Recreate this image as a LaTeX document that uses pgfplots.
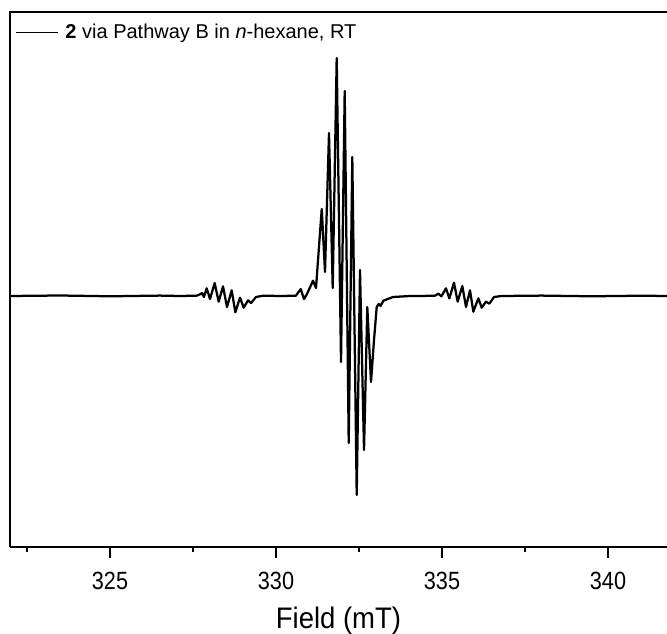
\documentclass[border=0pt]{standalone}
\usepackage{fontspec}
\setmainfont{Liberation Sans}
\usepackage{graphicx}
\usepackage{pgfplots}
\pgfplotsset{compat=1.18}
\begin{document}
\begin{tikzpicture}
\begin{axis}[
  scale only axis, width=394.2pt, height=321pt,
  xmin=321.988, xmax=341.777, ymin=-251, ymax=284,
  axis x line*=bottom, axis y line*=left,
  axis line style={-, line width=1pt, black},
  ytick=\empty,
  xtick={325,330,335,340}, minor xtick={322.5,327.5,332.5,337.5},
  tick align=outside, major tick length=6.6pt, minor tick length=3pt,
  tick style={black, line width=1pt},
  /pgf/number format/assume math mode=true,
  xticklabel={\scalebox{1}[1.15]{\pgfmathprintnumber{\tick}}},
  ticklabel style={font=\fontsize{13}{15}\selectfont, yshift=-5pt},
  xlabel={\scalebox{1}[1.08]{Field (mT)}},
  xlabel style={font=\fontsize{16.5}{19}\selectfont, at={(axis description cs:0.5,0)}, anchor=base, yshift=-48.6pt},
  legend style={at={(0,1)}, anchor=north west, yshift=-3pt, draw=none, fill=none, font=\fontsize{12}{14}\selectfont},
  legend image code/.code={\draw[black, line width=0.6pt] (1.5pt,0pt) -- (26.5pt,0pt);},
  clip mode=individual,
]
\addplot[black, line width=1.35pt, line join=round] coordinates {
(321.99,0) (323.5,0.5) (325.0,-0.3) (326.5,0.4) (327.108,0) (327.610,0.33) (327.711,1.67) (327.771,3) (327.831,-1)
(327.912,7.67) (328.012,-3) (328.152,13) (328.273,-5.67) (328.404,9.67) (328.524,-11)
(328.665,5.67) (328.775,-16.33) (328.916,-1.67) (329.026,-11.67) (329.157,-4.33)
(329.247,-7) (329.398,-1) (329.618,0.33) (330.120,0) (330.6,0.3)
(330.744,7) (330.843,-3) (330.934,2) (331.114,15.3) (331.205,8)
(331.377,87) (331.476,24) (331.596,163) (331.708,8) (331.828,238) (331.958,-66)
(332.069,205) (332.190,-147) (332.298,139) (332.431,-199) (332.530,26) (332.651,-154)
(332.750,-11) (332.861,-86) (332.952,-44) (333.033,-11) (333.093,-8) (333.150,-10)
(333.232,-4.7) (333.524,-1) (334.036,0) (334.337,0) (334.789,0.33) (334.889,2.33)
(334.980,-0.33) (335.120,7.67) (335.221,-2.33) (335.361,13.33) (335.472,-5.67)
(335.612,10) (335.723,-11) (335.843,5.67) (335.944,-15.67) (336.094,-2.33)
(336.195,-11.67) (336.325,-5.67) (336.426,-7.67) (336.566,-1) (336.797,0)
(338.0,0.4) (339.5,-0.3) (341.0,0.3) (341.777,0)
};
\addlegendentry{\hspace{2.5pt}\textbf{2} via Pathway B in \textit{n}-hexane, RT}
\coordinate (bl) at (rel axis cs:0,0);
\coordinate (tr) at (rel axis cs:1,1);
\end{axis}
\draw[black, line width=1pt, line cap=rect] (bl |- tr) -- (tr);
\pgfresetboundingbox
\path[use as bounding box] ([shift={(-6pt,-51.6pt)}]bl) rectangle ([shift={(0pt,7.2pt)}]tr);
\end{tikzpicture}
\end{document}
